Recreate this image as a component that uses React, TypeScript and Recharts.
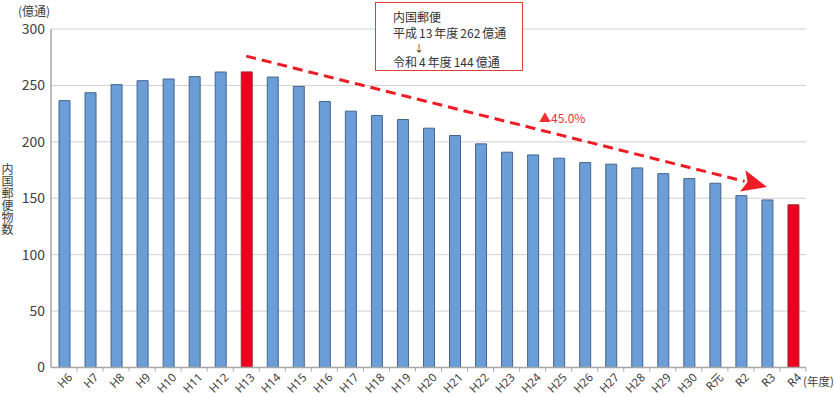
import React from 'react';
import { BarChart, Bar, XAxis, YAxis, CartesianGrid, Cell, ReferenceLine } from 'recharts';

const categories = ['H6','H7','H8','H9','H10','H11','H12','H13','H14','H15','H16','H17','H18','H19','H20','H21','H22','H23','H24','H25','H26','H27','H28','H29','H30','R元','R2','R3','R4'];
const mailVolume = [236.5,243.5,250.7,254.2,255.7,257.8,261.9,262.0,257.4,249.1,235.8,227.2,223.3,219.8,212.1,205.6,198.2,190.8,188.4,185.5,181.6,180.2,176.9,171.8,167.4,163.3,152.3,148.5,144.2];
const highlighted = ['H13','R4'];
const yTicks = [0,50,100,150,200,250,300];
const trendStart = { x: 'H13', y: 276 };
const trendEnd = { x: 'R3', y: 160 };

const data = categories.map((c, i) => ({ year: c, value: mailVolume[i] }));

const FONT = '"Noto Sans CJK JP", "Noto Sans", sans-serif';
const TICK_FONT = '"Noto Sans", "Noto Sans CJK JP", sans-serif';

const XTick = (props: any) => {
  const { x, y, payload } = props;
  const half = payload && typeof payload.offset === 'number' && payload.offset > 0 ? payload.offset : 13;
  const axisY = y - 4;
  return (
    <g>
      <line x1={x + half} y1={axisY} x2={x + half} y2={axisY + 4} stroke="#a6a6a6" strokeWidth={1} />
      <g transform={`translate(${x + 3}, ${y + 0.5}) rotate(-45)`}>
        <text x={0} y={0} dy="0.75em" textAnchor="end" fontSize={11.5} fill="#404040" fontFamily={TICK_FONT}>{payload.value}</text>
      </g>
    </g>
  );
};

const ArrowShape = (props: any) => {
  const { x1, y1, x2, y2 } = props;
  if ([x1, y1, x2, y2].some((v) => typeof v !== 'number' || isNaN(v))) return <g />;
  const dx = x2 - x1, dy = y2 - y1;
  const len = Math.sqrt(dx * dx + dy * dy);
  const ux = dx / len, uy = dy / len;
  const px = -uy, py = ux;
  const headLen = 25, headW = 11;
  const bx = x2 - ux * headLen, by = y2 - uy * headLen;
  return (
    <g>
      <line x1={x1} y1={y1} x2={bx + ux * 2} y2={by + uy * 2} stroke="#ee1c25" strokeWidth={3} strokeDasharray="10 6" />
      <polygon points={`${x2},${y2} ${bx + px * headW},${by + py * headW} ${bx + ux * 5},${by + uy * 5} ${bx - px * headW},${by - py * headW}`} fill="#ee1c25" />
    </g>
  );
};

const num = (s: string) => <span style={{ margin: '0 2px' }}>{s}</span>;

export default function App() {
  return (
    <div style={{ position: 'absolute', left: 0, top: 0, width: 834, height: 396, background: '#fff', fontFamily: FONT }}>
      <BarChart width={834} height={396} data={data} margin={{ top: 29, right: 28, bottom: 0, left: 0 }}>
        <CartesianGrid vertical={false} stroke="#cfcfcf" strokeWidth={1} />
        <XAxis dataKey="year" interval={0} tickLine={false} tickSize={4} tickMargin={0} height={28.5}
          axisLine={{ stroke: '#a6a6a6', strokeWidth: 1.5 }} tick={<XTick />} />
        <YAxis domain={[0, 300]} ticks={yTicks} width={51} tickLine={false} tickSize={4} tickMargin={2}
          axisLine={{ stroke: '#a6a6a6', strokeWidth: 1.5 }}
          tick={{ fontSize: 14, fill: '#404040', fontFamily: FONT }} />
        <Bar dataKey="value" barSize={11} isAnimationActive={false} stroke="#44648c" strokeWidth={1}>
          {data.map((d) => (
            <Cell key={d.year}
              fill={highlighted.includes(d.year) ? '#ee0020' : '#6b9dd7'}
              stroke={highlighted.includes(d.year) ? '#9a3030' : '#44648c'} />
          ))}
        </Bar>
        <ReferenceLine segment={[trendStart, trendEnd]} ifOverflow="visible" shape={<ArrowShape />} />
      </BarChart>
      <div style={{ position: 'absolute', left: 18, top: 5, fontSize: 12, lineHeight: '12px', color: '#404040', whiteSpace: 'nowrap' }}>(億通)</div>
      <div style={{ position: 'absolute', left: 1, top: 163, fontSize: 12, color: '#404040', writingMode: 'vertical-rl', lineHeight: '13px', whiteSpace: 'nowrap' }}>内国郵便物数</div>
      <div style={{ position: 'absolute', left: 803, top: 375, fontSize: 11.5, lineHeight: '12px', color: '#404040', whiteSpace: 'nowrap' }}>(年度)</div>
      <div style={{ position: 'absolute', left: 375, top: 2, width: 146, height: 67, border: '1px solid #e03c3c', background: '#fff', fontSize: 12, color: '#333', lineHeight: '12px', whiteSpace: 'nowrap' }}>
        <div style={{ position: 'absolute', left: 17, top: 8 }}>内国郵便</div>
        <div style={{ position: 'absolute', left: 17, top: 24 }}>平成{num('13')}年度{num('262')}億通</div>
        <div style={{ position: 'absolute', left: 38, top: 40, fontSize: 10, lineHeight: '9px' }}>↓</div>
        <div style={{ position: 'absolute', left: 17, top: 53 }}>令和{num('4')}年度{num('144')}億通</div>
      </div>
      <div style={{ position: 'absolute', left: 539, top: 111, fontSize: 12, lineHeight: '13px', color: '#ee3030', whiteSpace: 'nowrap' }}>▲45.0%</div>
    </div>
  );
}
